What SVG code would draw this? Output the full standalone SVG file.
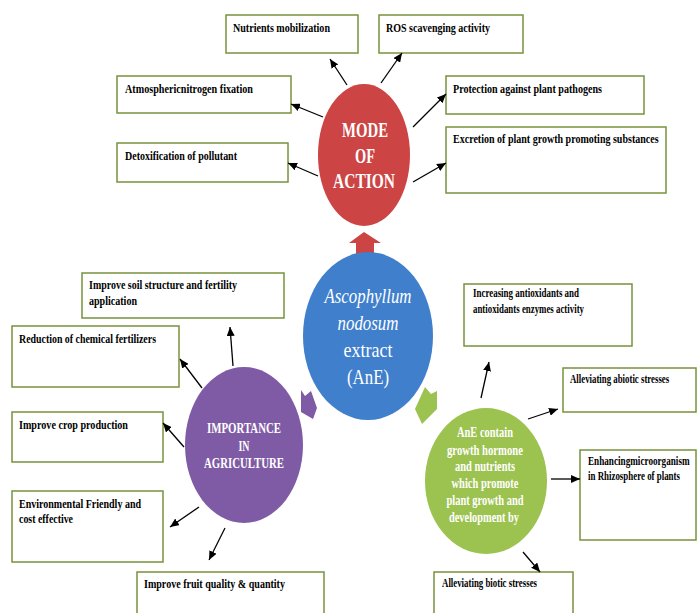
<svg xmlns="http://www.w3.org/2000/svg" width="697" height="613" viewBox="0 0 697 613">
<defs>
<marker id="ah" markerUnits="userSpaceOnUse" markerWidth="9" markerHeight="8" refX="9" refY="4" orient="auto">
<path d="M0,0 L9,4 L0,8 z" fill="#000"/>
</marker>
<style>
.box{fill:#fff;stroke:#77933C;stroke-width:1.5}
.bt{font-family:"Liberation Serif","Times New Roman",serif;font-weight:bold;font-size:12px;fill:#000}
.ct{font-family:"Liberation Serif","Times New Roman",serif;fill:#fff;text-anchor:middle}
.cn line{stroke:#000;stroke-width:1.3;marker-end:url(#ah)}
</style>
</defs>
<rect width="697" height="613" fill="#fff"/>

<g id="block-arrows">
<polygon points="364,232 381,243 374,243 374,256 356,256 356,243 349,243" fill="#CC4444"/>
<polygon points="301,390 305,396 311,391 317,408 313,419 301,412" fill="#7F5BA6"/>
<polygon points="425,387 431,394 437,391 437,409 422,424 415,409" fill="#9CC24F"/>
</g>

<g id="mode">
<ellipse cx="364" cy="155" rx="46" ry="71" fill="#CC4444"/>
<text class="ct" font-weight="bold" font-size="22" x="365" y="137" textLength="46" lengthAdjust="spacingAndGlyphs">MODE</text>
<text class="ct" font-weight="bold" font-size="22" x="365" y="163" textLength="20" lengthAdjust="spacingAndGlyphs">OF</text>
<text class="ct" font-weight="bold" font-size="22" x="364" y="188" textLength="62" lengthAdjust="spacingAndGlyphs">ACTION</text>
</g>

<g id="center">
<ellipse cx="368" cy="336" rx="65" ry="84" fill="#3F7FCC"/>
<text class="ct" font-style="italic" font-size="22" x="368" y="303" textLength="87" lengthAdjust="spacingAndGlyphs">Ascophyllum</text>
<text class="ct" font-style="italic" font-size="22" x="368" y="330" textLength="61" lengthAdjust="spacingAndGlyphs">nodosum</text>
<text class="ct" font-size="22" x="368" y="357" textLength="49" lengthAdjust="spacingAndGlyphs">extract</text>
<text class="ct" font-size="22" x="368" y="384" textLength="42" lengthAdjust="spacingAndGlyphs">(AnE)</text>
</g>

<g id="importance">
<ellipse cx="244" cy="445" rx="59" ry="78" fill="#7F5BA6"/>
<text class="ct" font-weight="bold" font-size="15" x="244" y="433" textLength="74" lengthAdjust="spacingAndGlyphs">IMPORTANCE</text>
<text class="ct" font-weight="bold" font-size="15" x="244" y="451" textLength="11" lengthAdjust="spacingAndGlyphs">IN</text>
<text class="ct" font-weight="bold" font-size="15" x="244" y="468" textLength="80" lengthAdjust="spacingAndGlyphs">AGRICULTURE</text>
</g>

<g id="ane">
<ellipse cx="486" cy="481" rx="61" ry="73" fill="#9CC24F"/>
<text class="ct" font-weight="bold" font-size="15" x="485" y="437" textLength="56" lengthAdjust="spacingAndGlyphs">AnE contain</text>
<text class="ct" font-weight="bold" font-size="15" x="485" y="455" textLength="76" lengthAdjust="spacingAndGlyphs">growth hormone</text>
<text class="ct" font-weight="bold" font-size="15" x="485" y="471" textLength="60" lengthAdjust="spacingAndGlyphs">and nutrients</text>
<text class="ct" font-weight="bold" font-size="15" x="485" y="488" textLength="67" lengthAdjust="spacingAndGlyphs">which promote</text>
<text class="ct" font-weight="bold" font-size="15" x="485" y="505" textLength="77" lengthAdjust="spacingAndGlyphs">plant growth and</text>
<text class="ct" font-weight="bold" font-size="15" x="484" y="522" textLength="70" lengthAdjust="spacingAndGlyphs">development by</text>
</g>

<g id="n-nutrients"><rect class="box" x="226" y="15" width="132" height="38"/>
<text class="bt" x="233" y="32" textLength="97" lengthAdjust="spacingAndGlyphs">Nutrients mobilization</text></g>
<g id="n-ros"><rect class="box" x="379" y="15" width="144" height="38"/>
<text class="bt" x="386" y="32" textLength="104" lengthAdjust="spacingAndGlyphs">ROS scavenging activity</text></g>
<g id="n-atmo"><rect class="box" x="117" y="76" width="174" height="37"/>
<text class="bt" x="125" y="93" textLength="128" lengthAdjust="spacingAndGlyphs">Atmosphericnitrogen fixation</text></g>
<g id="n-detox"><rect class="box" x="117" y="143" width="171" height="39"/>
<text class="bt" x="125" y="160" textLength="112" lengthAdjust="spacingAndGlyphs">Detoxification of pollutant</text></g>
<g id="n-protect"><rect class="box" x="446" y="76" width="198" height="38"/>
<text class="bt" x="453" y="93" textLength="149" lengthAdjust="spacingAndGlyphs">Protection against plant pathogens</text></g>
<g id="n-excretion"><rect class="box" x="446" y="127" width="220" height="66"/>
<text class="bt" transform="translate(453,143) scale(0.8,1)" x="0" y="0" textLength="257" lengthAdjust="spacingAndGlyphs">Excretion of plant growth promoting substances</text></g>

<g id="n-soil"><rect class="box" x="82" y="273" width="202" height="45"/>
<text class="bt" x="89" y="289" textLength="148" lengthAdjust="spacingAndGlyphs">Improve soil structure and fertility</text>
<text class="bt" x="89" y="305" textLength="48" lengthAdjust="spacingAndGlyphs">application</text></g>
<g id="n-reduction"><rect class="box" x="12" y="326" width="167" height="61"/>
<text class="bt" x="19" y="343" textLength="137" lengthAdjust="spacingAndGlyphs">Reduction of chemical fertilizers</text></g>
<g id="n-crop"><rect class="box" x="12" y="412" width="151" height="50"/>
<text class="bt" x="19" y="429" textLength="109" lengthAdjust="spacingAndGlyphs">Improve crop production</text></g>
<g id="n-env"><rect class="box" x="12" y="491" width="151" height="71"/>
<text class="bt" x="19" y="508" textLength="122" lengthAdjust="spacingAndGlyphs">Environmental Friendly and</text>
<text class="bt" x="19" y="523" textLength="54" lengthAdjust="spacingAndGlyphs">cost effective</text></g>
<g id="n-fruit"><rect class="box" x="137" y="572" width="187" height="60"/>
<text class="bt" x="144" y="588" textLength="141" lengthAdjust="spacingAndGlyphs">Improve fruit quality &amp; quantity</text></g>

<g id="n-antiox"><rect class="box" x="464" y="284" width="168" height="62"/>
<text class="bt" x="473" y="297" textLength="106" lengthAdjust="spacingAndGlyphs">Increasing antioxidants and</text>
<text class="bt" x="473" y="313" textLength="111" lengthAdjust="spacingAndGlyphs">antioxidants enzymes activity</text></g>
<g id="n-abiotic"><rect class="box" x="563" y="368" width="133" height="44"/>
<text class="bt" transform="translate(570,383) scale(0.8,1)" x="0" y="0" textLength="124" lengthAdjust="spacingAndGlyphs">Alleviating abiotic stresses</text></g>
<g id="n-micro"><rect class="box" x="580" y="450" width="116" height="90"/>
<text class="bt" transform="translate(588,465) scale(0.8,1)" x="0" y="0" textLength="127" lengthAdjust="spacingAndGlyphs">Enhancingmicroorganism</text>
<text class="bt" transform="translate(588,480) scale(0.8,1)" x="0" y="0" textLength="115" lengthAdjust="spacingAndGlyphs">in Rhizosphere of plants</text></g>
<g id="n-biotic"><rect class="box" x="434" y="572" width="139" height="60"/>
<text class="bt" x="442" y="587" textLength="95" lengthAdjust="spacingAndGlyphs">Alleviating biotic stresses</text></g>

<g id="connectors" class="cn">
<line x1="347" y1="85" x2="330" y2="59"/>
<line x1="381" y1="83" x2="402" y2="53"/>
<line x1="323" y1="117" x2="291" y2="104"/>
<line x1="318" y1="176" x2="288" y2="163"/>
<line x1="413" y1="127" x2="446" y2="94"/>
<line x1="413" y1="182" x2="446" y2="163"/>
<line x1="233" y1="366" x2="230" y2="327"/>
<line x1="202" y1="388" x2="180" y2="359"/>
<line x1="184" y1="447" x2="163" y2="423"/>
<line x1="199" y1="507" x2="170" y2="527"/>
<line x1="225" y1="528" x2="209" y2="560"/>
<line x1="481" y1="398" x2="489" y2="362"/>
<line x1="528" y1="419" x2="558" y2="409"/>
<line x1="551" y1="479" x2="580" y2="479"/>
<line x1="523" y1="552" x2="540" y2="572"/>
</g>
</svg>
